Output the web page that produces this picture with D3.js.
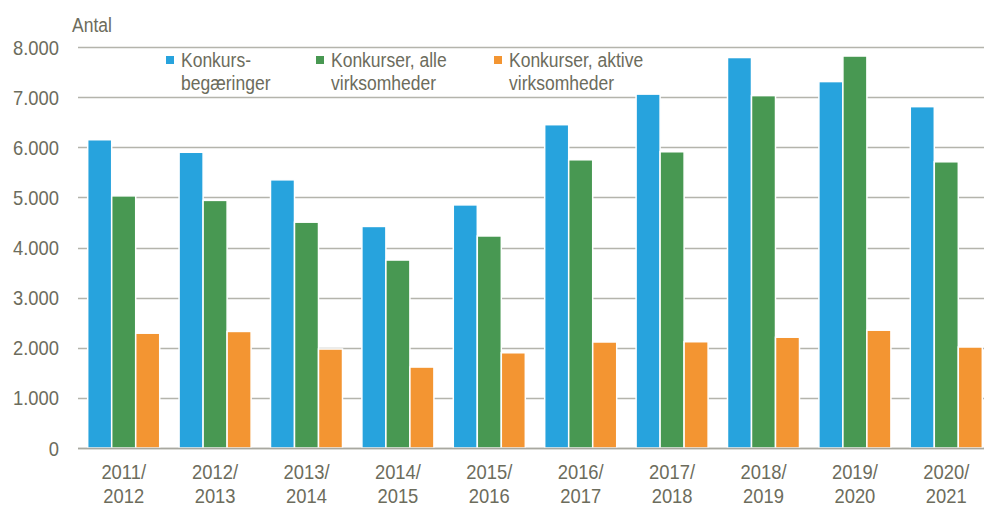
<!DOCTYPE html>
<html>
<head>
<meta charset="utf-8">
<script src="https://cdn.jsdelivr.net/npm/d3@7"></script>
<style>
  body { margin: 0; background: #fff; }
  svg text { font-family: "Liberation Sans Narrow", "Arial Narrow", "Liberation Sans", sans-serif; fill: #6c6c5c; }
</style>
</head>
<body>
<svg id="chart" width="984" height="507"></svg>
<script>
const categories = ['2011/2012', '2012/2013', '2013/2014', '2014/2015', '2015/2016',
    '2016/2017', '2017/2018', '2018/2019', '2019/2020', '2020/2021']
const begaeringer = [6150, 5900, 5350, 4420, 4850, 6450, 7060, 7790, 7310, 6810]
const alleVirksomheder = [5030, 4940, 4505, 3750, 4230, 5750, 5910, 7030, 7820, 5710]
const aktiveVirksomheder = [2290, 2325, 1975, 1615, 1900, 2115, 2120, 2210, 2350, 2015]
const yTicks = [0, 1000, 2000, 3000, 4000, 5000, 6000, 7000, 8000]

const seriesNames = [['Konkurs-', 'begæringer'], ['Konkurser, alle', 'virksomheder'], ['Konkurser, aktive', 'virksomheder']]
const colors = ['#27a3dd', '#489852', '#f39532']
const seriesValues = [begaeringer, alleVirksomheder, aktiveVirksomheder]

const svg = d3.select('#chart')

const plotLeft = 78, plotRight = 992, plotTop = 47, plotBottom = 448
// no narrow font installed, so squeeze the regular one a bit
const squeeze = 0.875

let y = d3.scaleLinear()
    .domain([0, 8000])
    .range([plotBottom, plotTop])

let x0 = d3.scaleBand()
    .domain(categories)
    .range([plotLeft, plotRight])
    .paddingInner(0.212)
    .paddingOuter(0.106)

let x1 = d3.scaleBand()
    .domain([0, 1, 2])
    .range([0, x0.bandwidth()])

let place = (x, y) => 'translate(' + x + ',' + y + ') scale(' + squeeze + ',1)'

// gridlines
svg.append('g')
    .attr('class', 'grid')
    .selectAll('line')
    .data(yTicks)
    .enter().append('line')
    .attr('x1', plotLeft)
    .attr('x2', plotRight)
    .attr('y1', d => Math.round(y(d)) + 0.5)
    .attr('y2', d => Math.round(y(d)) + 0.5)
    .style('stroke', '#b4b4ac')
    .style('stroke-width', 1.5)

// y tick labels
svg.append('g')
    .selectAll('text')
    .data(yTicks)
    .enter().append('text')
    .attr('transform', d => place(59, y(d)))
    .attr('dy', '0.36em')
    .attr('text-anchor', 'end')
    .style('font-size', '21px')
    .text(d => d3.format(',')(d).replace(/,/g, '.'))

svg.append('text')
    .attr('transform', place(72, 32))
    .style('font-size', '20px')
    .text('Antal')

// bars
let groups = svg.append('g')
    .selectAll('g')
    .data(categories)
    .enter().append('g')
    .attr('transform', d => 'translate(' + x0(d) + ',0)')

groups.selectAll('rect')
    .data((d, i) => seriesValues.map((s, k) => ({ k: k, value: s[i] })))
    .enter().append('rect')
    .attr('x', d => x1(d.k))
    .attr('width', x1.bandwidth())
    .attr('y', d => y(d.value))
    .attr('height', d => y(0) - y(d.value))
    .style('fill', d => colors[d.k])
    .style('stroke', '#fff')
    .style('stroke-width', 1.5)

// axis line
svg.append('line')
    .attr('x1', plotLeft)
    .attr('x2', plotRight)
    .attr('y1', y(0) + 0.5)
    .attr('y2', y(0) + 0.5)
    .style('stroke', '#a8a8a0')
    .style('stroke-width', 1.5)

// category labels
let catLabels = svg.append('g')
    .selectAll('text')
    .data(categories)
    .enter().append('text')
    .attr('transform', d => place(x0(d) + x0.bandwidth() / 2, 479))
    .attr('text-anchor', 'middle')
    .style('font-size', '21px')

catLabels.append('tspan')
    .attr('x', 0)
    .attr('y', 0)
    .text(d => d.split('/')[0] + '/')

catLabels.append('tspan')
    .attr('x', 0)
    .attr('y', 24)
    .text(d => d.split('/')[1])

// legend
const legendX = [166, 316, 494]
let legend = svg.append('g')
    .attr('class', 'legend')
    .selectAll('g')
    .data(seriesNames)
    .enter().append('g')
    .attr('transform', (d, i) => 'translate(' + legendX[i] + ',0)')

legend.append('rect')
    .attr('x', 0)
    .attr('y', 56)
    .attr('width', 8)
    .attr('height', 8)
    .style('fill', (d, i) => colors[i])

let legendText = legend.append('text')
    .attr('transform', place(15, 67))
    .style('font-size', '20px')

legendText.append('tspan')
    .attr('x', 0)
    .attr('y', 0)
    .text(d => d[0])

legendText.append('tspan')
    .attr('x', 0)
    .attr('y', 23)
    .text(d => d[1])
</script>
</body>
</html>
